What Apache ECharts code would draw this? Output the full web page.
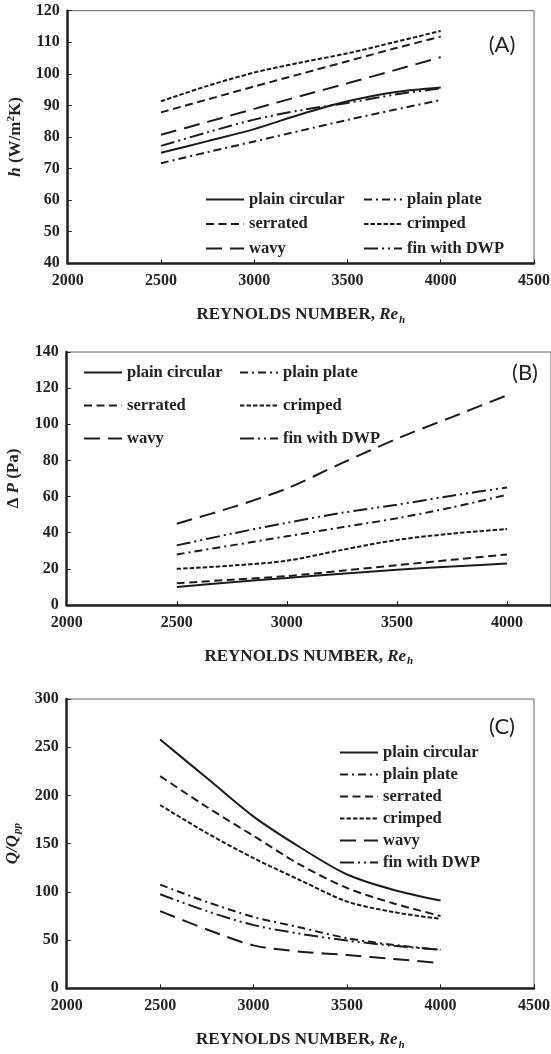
<!DOCTYPE html>
<html><head><meta charset="utf-8">
<script src="https://cdn.jsdelivr.net/npm/echarts@6/dist/echarts.min.js"></script>
<style>html,body{margin:0;padding:0;background:#fff}#c{width:551px;height:1054px}</style>
</head><body><div id="c"></div>
<script>
// ---------- data ----------
const seriesNames = ['plain circular', 'plain plate', 'serrated', 'crimped', 'wavy', 'fin with DWP'];
const reynolds = [2500, 2750, 3000, 3250, 3500, 3750, 4000];

// (A) heat transfer coefficient h (W/m2K)
const hPlainCircular = [75.0, 78.7, 82.5, 87.2, 91.3, 94.2, 95.7];
const hPlainPlate    = [71.7, 75.2, 78.6, 82.0, 85.4, 88.6, 91.7];
const hSerrated      = [87.8, 91.9, 96.0, 100.0, 104.0, 108.0, 111.8];
const hCrimped       = [91.3, 96.2, 100.4, 103.6, 106.5, 110.0, 113.6];
const hWavy          = [80.7, 84.8, 88.9, 93.0, 97.0, 101.1, 105.3];
const hFinDWP        = [77.2, 81.5, 85.5, 88.5, 90.8, 93.4, 95.4];

// (B) pressure drop (Pa)
const dpPlainCircular = [10.0, 12.6, 15.0, 17.3, 19.5, 21.3, 23.0];
const dpPlainPlate    = [28.0, 33.0, 38.0, 43.0, 48.0, 54.0, 61.0];
const dpSerrated      = [12.0, 14.0, 16.0, 19.0, 22.0, 25.0, 28.0];
const dpCrimped       = [20.0, 21.8, 24.5, 30.5, 36.0, 39.5, 42.0];
const dpWavy          = [45.0, 54.0, 64.5, 78.5, 92.0, 104.0, 116.0];
const dpFinDWP        = [33.0, 39.5, 45.5, 51.0, 55.5, 60.5, 65.0];

// (C) Q/Qpp
const qPlainCircular = [258, 218, 178, 146, 118, 102, 91];
const qPlainPlate    = [107.5, 89.5, 74, 63, 52, 45, 40];
const qSerrated      = [220, 188, 158, 128, 104, 88, 75];
const qCrimped       = [190, 161, 135, 112, 90, 79, 72];
const qWavy          = [80, 61, 44.5, 38, 34.5, 30.5, 26];
const qFinDWP        = [97.5, 80, 65.5, 56.5, 49.5, 44, 40];

const xTickLabels = ['2000', '2500', '3000', '3500', '4000', '4500'];

// ---------- styles ----------
const dashes = [
  'solid',
  [8, 4, 2, 4],
  [8, 4.5],
  [4.5, 2],
  [16, 8],
  [14, 4, 2, 4, 2, 4]
];
const INK = '#1c1c1c';
const SERIF = '"Liberation Serif", "Times New Roman", serif';
const lbl = { fontFamily: SERIF, fontWeight: 'bold', fontSize: 16, color: '#222' };
const richBase = { fontFamily: SERIF, fontWeight: 'bold', fontSize: 17, color: '#222' };
const rich = {
  b: Object.assign({}, richBase),
  i: Object.assign({}, richBase, { fontStyle: 'italic' }),
  s: Object.assign({}, richBase, { fontStyle: 'italic', fontSize: 11, padding: [10, 0, 0, 1] }),
  p: Object.assign({}, richBase, { fontSize: 11, padding: [0, 0, 9, 0] })
};

const panels = [
  { data: [hPlainCircular, hPlainPlate, hSerrated, hCrimped, hWavy, hFinDWP],
    grid: { left: 67.7, top: 10.7, right: 17, height: 252.6 },
    x: { min: 2000, max: 4500 }, y: { min: 40, max: 120, interval: 10 },
    yName: '{i|h}{b| (W/m}{p|2}{b|K)}', yGap: 42 },
  { data: [dpPlainCircular, dpPlainPlate, dpSerrated, dpCrimped, dpWavy, dpFinDWP],
    grid: { left: 66.7, top: 352, right: 0, height: 253 },
    x: { min: 2000, max: 4200 }, y: { min: 0, max: 140, interval: 20 },
    yName: '{b|Δ }{i|P}{b| (Pa)}', yGap: 45 },
  { data: [qPlainCircular, qPlainPlate, qSerrated, qCrimped, qWavy, qFinDWP],
    grid: { left: 66.7, top: 699, right: 17, height: 289.3 },
    x: { min: 2000, max: 4500 }, y: { min: 0, max: 300, interval: 50 },
    yName: '{i|Q/Q}{s|pp}', yGap: 44 }
];

const grids = [], xAxes = [], yAxes = [], series = [];
panels.forEach((p, pi) => {
  grids.push(Object.assign({ show: true, borderColor: '#666', borderWidth: 1, backgroundColor: '#fff', outerBoundsMode: 'none', containLabel: false }, p.grid));
  xAxes.push({
    type: 'value', gridIndex: pi, min: p.x.min, max: p.x.max, interval: 500,
    axisLine: { show: true, onZero: false, lineStyle: { color: '#222', width: 2.5 } },
    axisTick: { show: true, inside: true, length: 4, lineStyle: { color: '#222', width: 1 } },
    axisLabel: Object.assign({ margin: 10, showMaxLabel: p.x.max === 4500,
      formatter: v => xTickLabels.indexOf(String(v)) >= 0 ? String(v) : '' }, lbl),
    splitLine: { show: false },
    name: '{b|REYNOLDS NUMBER, }{i|Re}{s|h}', nameLocation: 'middle', nameGap: 41,
    nameMoveOverlap: false,
    nameTextStyle: { rich: rich }
  });
  yAxes.push({
    type: 'value', gridIndex: pi, min: p.y.min, max: p.y.max, interval: p.y.interval,
    axisLine: { show: true, onZero: false, lineStyle: { color: '#222', width: 2.5 } },
    axisTick: { show: true, inside: true, length: 4, lineStyle: { color: '#222', width: 1 } },
    axisLabel: Object.assign({ margin: 8 }, lbl),
    splitLine: { show: false },
    name: p.yName, nameLocation: 'middle', nameRotate: 90, nameGap: p.yGap,
    nameMoveOverlap: false,
    nameTextStyle: { rich: rich }
  });
  p.data.forEach((vals, si) => {
    series.push({
      type: 'line', name: seriesNames[si], xAxisIndex: pi, yAxisIndex: pi,
      data: reynolds.map((x, k) => [x, vals[k]]),
      smooth: 0.3, symbol: 'none', showSymbol: false, silent: true,
      lineStyle: { color: INK, width: 2, type: dashes[si] },
      itemStyle: { color: INK },
      emphasis: { disabled: true }
    });
  });
});

const legendText = { fontFamily: SERIF, fontWeight: 'bold', fontSize: 16.5, color: '#222' };
function mkLegend(names, left, top, gap) {
  return { data: names, orient: 'vertical', left: left, top: top, itemWidth: 38, itemHeight: 14,
    itemGap: gap, selectedMode: false, textStyle: legendText, padding: 0, icon: 'inherit',
    itemStyle: { opacity: 0, borderWidth: 0 } };
}
const legends = [
  mkLegend(['plain circular', 'serrated', 'wavy'], 205, 191, 7.5),
  mkLegend(['plain plate', 'crimped', 'fin with DWP'], 363, 191, 7.5),
  mkLegend(['plain circular', 'serrated', 'wavy'], 83, 364, 16),
  mkLegend(['plain plate', 'crimped', 'fin with DWP'], 239, 364, 16),
  mkLegend(seriesNames, 339, 744, 5)
];

const panelTag = (t, x, y) => ({ type: 'text', x: x, y: y, silent: true,
  style: { text: t, font: '22px Lato, "Open Sans", sans-serif', fill: '#222', align: 'center', verticalAlign: 'middle' } });

const chart = echarts.init(document.getElementById('c'), null, { renderer: 'canvas' });
chart.setOption({
  animation: false,
  backgroundColor: '#fff',
  grid: grids, xAxis: xAxes, yAxis: yAxes, series: series, legend: legends,
  graphic: [panelTag('(A)', 502, 45), panelTag('(B)', 525, 373), panelTag('(C)', 502, 727)]
});
</script></body></html>
